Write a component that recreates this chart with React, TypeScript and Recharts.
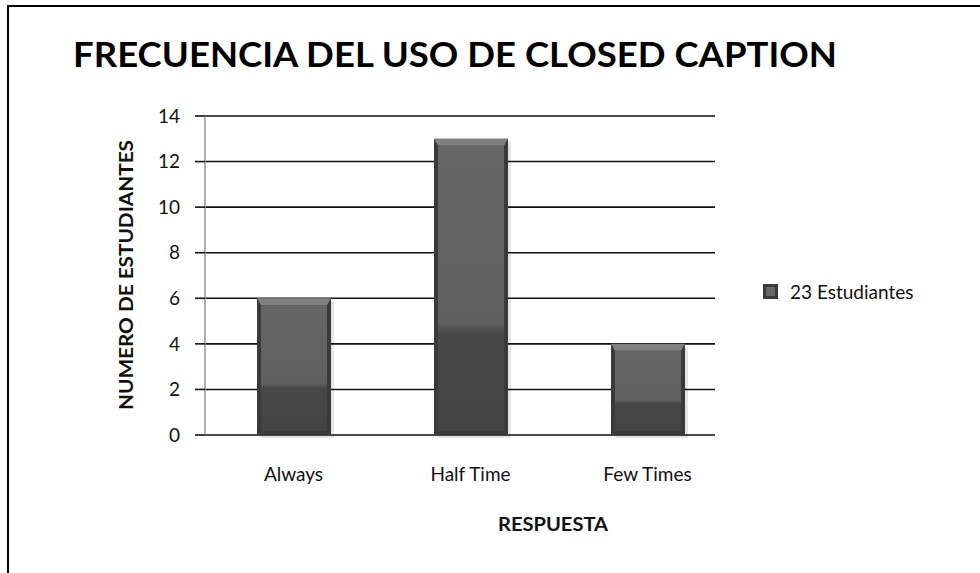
import { BarChart, Bar, XAxis, YAxis, CartesianGrid, Legend } from 'recharts'

// values
const categories = ['Always', 'Half Time', 'Few Times']
const estudiantes = [6, 13, 4]
const yTicks = [0, 2, 4, 6, 8, 10, 12, 14]
const seriesName = '23 Estudiantes'
const title = 'FRECUENCIA DEL USO DE CLOSED CAPTION'
const yLabel = 'NUMERO DE ESTUDIANTES'
const xLabel = 'RESPUESTA'

const data = categories.map((c, i) => ({ respuesta: c, value: estudiantes[i] }))

const FONT = 'Lato, "Open Sans", sans-serif'
const INK = '#111'

// bevelled dark-grey bar, like the office 2007 style
const BevelBar = (props: any) => {
  const { x, y, width, height } = props
  if (!height || height <= 0) return null
  const b = 4
  return (
    <g>
      <rect x={x + 3} y={y + 3} width={width} height={height} fill="#000" opacity={0.1} />
      <rect x={x} y={y} width={width} height={height} fill="#3a3a3a" />
      <polygon
        points={`${x},${y} ${x + width},${y} ${x + width - b},${y + b + 3} ${x + b},${y + b + 3}`}
        fill="#808080"
      />
      <rect x={x + b} y={y + b + 3} width={width - 2 * b} height={height - 2 * b - 3} fill="url(#faceG)" />
    </g>
  )
}

const LegendBox = () => (
  <div style={{ display: 'flex', alignItems: 'center', fontFamily: FONT, fontSize: 19, color: INK }}>
    <svg width={15} height={15} style={{ display: 'block' }}>
      <rect x={0} y={0} width={15} height={15} fill="#3a3a3a" />
      <rect x={3} y={3} width={9} height={9} fill="#666" />
    </svg>
    <span style={{ marginLeft: 12, whiteSpace: 'nowrap' }}>{seriesName}</span>
  </div>
)

export default function App() {
  return (
    <div style={{ position: 'absolute', left: 0, top: 0, width: 980, height: 573, background: '#fff', overflow: 'hidden' }}>
      <div style={{ position: 'absolute', left: 7, top: 5, width: 1000, height: 600, borderTop: '2px solid #000', borderLeft: '2px solid #000' }} />
      <BarChart width={980} height={573} data={data} margin={{ top: 116, right: 265, bottom: 108, left: 0 }}>
        <defs>
          <linearGradient id="faceG" x1="0" y1="0" x2="0" y2="1">
            <stop offset="0%" stopColor="#666666" />
            <stop offset="62%" stopColor="#606060" />
            <stop offset="66%" stopColor="#484848" />
            <stop offset="100%" stopColor="#434343" />
          </linearGradient>
        </defs>
        <CartesianGrid vertical={false} stroke="#111" strokeWidth={1.6} />
        <XAxis dataKey="respuesta" height={30} axisLine={false} tickLine={false} tickSize={0} tickMargin={33}
          padding={{ left: 0, right: -21 }} interval={0}
          tick={{ fill: INK, fontSize: 19, fontFamily: FONT }} />
        <YAxis domain={[0, 14]} ticks={yTicks} width={205} interval={0}
          axisLine={{ stroke: '#999', strokeWidth: 1.5 }} tickLine={{ stroke: '#111', strokeWidth: 1.6 }}
          tickSize={10} tickMargin={15}
          tick={{ fill: INK, fontSize: 19, fontFamily: FONT }} />
        <Legend layout="vertical" align="center" verticalAlign="middle" content={<LegendBox />}
          wrapperStyle={{ position: 'absolute', left: 763, top: 280, width: 200 }} />
        <Bar dataKey="value" name={seriesName} barSize={74} shape={<BevelBar />} isAnimationActive={false} />
      </BarChart>
      <svg width={980} height={573} style={{ position: 'absolute', left: 0, top: 0, pointerEvents: 'none' }}>
        <text x={73} y={67} fontFamily={FONT} fontWeight={700} fontSize={34} fill="#000"
          textLength={764} lengthAdjust="spacingAndGlyphs">{title}</text>
        <text x={125} y={275} fontFamily={FONT} fontWeight={700} fontSize={19} fill={INK}
          textAnchor="middle" dominantBaseline="central" transform="rotate(-90 125 275)"
          textLength={270} lengthAdjust="spacingAndGlyphs">{yLabel}</text>
        <text x={553} y={523} fontFamily={FONT} fontWeight={700} fontSize={19} fill={INK}
          textAnchor="middle" dominantBaseline="central"
          textLength={110} lengthAdjust="spacingAndGlyphs">{xLabel}</text>
      </svg>
    </div>
  )
}
